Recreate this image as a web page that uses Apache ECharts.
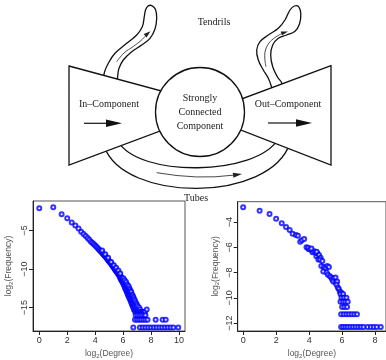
<!DOCTYPE html>
<html>
<head>
<meta charset="utf-8">
<script src="https://cdn.jsdelivr.net/npm/echarts@6/dist/echarts.min.js"></script>
<style>
  html, body { margin: 0; padding: 0; background: #fff; }
  #main { width: 386px; height: 360px; }
</style>
</head>
<body>
<div id="main"></div>
<script>
// in-degree distribution: log2(degree) vs log2(frequency)
const inX = [0, 1, 1.6, 2, 2.32, 2.58, 2.81, 3.0, 3.17, 3.32, 3.46, 3.58, 3.7, 3.81, 3.91, 4.0,
  4.09, 4.17, 4.25, 4.32, 4.39, 4.46, 4.52, 4.58, 4.64, 4.7, 4.75, 4.81, 4.86, 4.91, 4.95, 5.0,
  5.04, 5.09, 5.13, 5.17, 5.21, 5.25, 5.29, 5.32, 5.36, 5.39, 5.43, 5.46, 5.49, 5.52, 5.55, 5.58,
  5.61, 5.64, 5.67, 5.7, 5.73, 5.75, 5.78, 5.81, 5.83, 5.86, 5.88, 5.91, 5.93, 5.95, 5.98, 6.0,
  6.02, 6.04, 6.07, 6.09, 6.11, 6.13, 6.15, 6.17, 6.19, 6.21, 6.23, 6.25, 6.27, 6.29, 6.3, 6.32,
  6.34, 6.36, 6.38, 6.39, 6.41, 6.43, 6.44, 6.46, 6.48, 6.49, 6.51, 6.52, 6.54, 6.55, 6.57, 6.58,
  6.6, 6.61, 6.63, 6.64, 6.66, 6.67, 6.69, 6.7, 6.72, 6.73, 6.75, 6.76, 6.78, 6.79, 6.81, 6.82,
  6.84, 6.86, 6.87, 6.9, 6.92, 6.94, 6.96, 6.98, 7.0, 7.03, 7.06, 7.1, 7.14, 7.18, 7.22, 7.26,
  7.3, 7.36, 7.42, 7.5, 7.56, 7.69,
  4.5, 4.72, 4.93, 5.15, 5.34, 5.5, 5.66, 5.8,
  6.9, 7.05, 7.2, 7.35, 7.5, 7.6,
  6.85, 7.0, 7.15, 7.3, 7.45, 7.6, 7.75, 8.33, 8.83, 9.05,
  6.73, 7.2, 7.4, 7.6, 7.8, 8.0, 8.2, 8.4, 8.6, 8.8, 9.0, 9.2, 9.4, 9.6, 9.95];
const inY = [-2.11, -1.98, -2.89, -3.4, -3.97, -4.36, -4.74, -5.15, -5.45, -5.7, -5.98, -6.2, -6.45, -6.62, -6.8, -6.95,
  -7.12, -7.28, -7.42, -7.55, -7.7, -7.82, -7.95, -8.08, -8.2, -8.32, -8.45, -8.55, -8.68, -8.8, -8.88, -9.0,
  -9.1, -9.2, -9.3, -9.38, -9.5, -9.58, -9.7, -9.78, -9.85, -9.98, -10.05, -10.15, -10.2, -10.3, -10.4, -10.35,
  -10.55, -10.5, -10.7, -10.6, -10.9, -10.75, -11.1, -10.95, -11.3, -11.1, -11.45, -11.2, -11.6, -11.35, -11.8, -11.5,
  -11.2, -12.0, -11.7, -12.2, -11.45, -12.4, -11.9, -12.6, -12.1, -11.7, -12.8, -12.3, -13.0, -12.0, -12.6, -13.2,
  -12.4, -13.4, -12.8, -12.2, -13.6, -13.0, -12.5, -13.8, -13.2, -12.7, -14.0, -13.4, -12.9, -14.2, -13.6, -13.0,
  -14.4, -13.8, -13.3, -14.6, -14.0, -13.4, -14.8, -14.2, -13.6, -15.0, -14.4, -13.8, -15.3, -14.6, -14.0, -15.26,
  -14.8, -14.2, -15.58, -15.0, -14.4, -15.58, -15.26, -14.6, -15.58, -14.8, -15.26, -15.58, -15.0, -15.58, -15.26, -15.58,
  -15.58, -15.58, -15.58, -15.58, -15.58, -15.26,
  -7.6, -8.1, -8.55, -9.1, -9.5, -9.85, -10.2, -10.6,
  -16.0, -16.0, -16.0, -16.0, -16.0, -16.0,
  -16.58, -16.58, -16.58, -16.58, -16.58, -16.58, -16.58, -16.58, -16.58, -16.58,
  -17.58, -17.58, -17.58, -17.58, -17.58, -17.58, -17.58, -17.58, -17.58, -17.58, -17.58, -17.58, -17.58, -17.58, -17.58];

// out-degree distribution
const outX = [0, 1, 1.6, 2.0, 2.34, 2.6, 2.82, 3.0, 3.2, 3.32, 3.46, 3.56, 3.7,
  3.84, 3.96, 4.1, 4.2, 4.3, 4.44, 4.5, 4.56, 3.94, 4.06, 4.14, 4.4, 4.46, 4.6, 4.7, 4.66,
  4.8, 4.74, 4.9, 5.0, 5.1, 5.2, 4.86, 5.06, 5.14, 5.26, 5.34, 5.4, 5.5, 5.6, 5.46, 5.6, 5.7,
  5.66, 5.74, 5.8, 5.86, 5.94, 5.9, 6.06,
  5.96, 6.1, 6.26,
  5.9, 6.06, 6.2, 6.34,
  6.0, 6.14, 6.3,
  5.94, 6.1, 6.26, 6.42, 6.58, 6.74, 6.9,
  5.94, 6.06, 6.2, 6.34, 6.5, 6.66, 6.82, 6.98, 7.14, 7.3, 7.54, 7.74, 7.92, 8.1, 8.34];
const outY = [-2.82, -3.09, -3.35, -3.74, -4.08, -4.39, -4.63, -4.92, -5.02, -5.07, -5.55, -5.44, -5.33,
  -5.99, -6.12, -6.17, -6.38, -6.3, -6.7, -6.49, -6.96, -6.04, -6.17, -6.09, -6.43, -6.35, -6.61, -6.82, -6.98,
  -7.08, -7.48, -7.56, -7.66, -7.48, -7.56, -7.92, -8.0, -8.18, -8.29, -8.39, -8.55, -8.44, -8.39, -8.71, -8.78, -8.71,
  -8.97, -9.18, -9.31, -9.49, -9.57, -9.7, -9.7,
  -9.99, -9.99, -9.99,
  -10.31, -10.31, -10.31, -10.31,
  -10.73, -10.73, -10.73,
  -11.31, -11.31, -11.31, -11.31, -11.31, -11.31, -11.31,
  -12.31, -12.31, -12.31, -12.31, -12.31, -12.31, -12.31, -12.31, -12.31, -12.31, -12.31, -12.31, -12.31, -12.31, -12.31];

const inTicksX = [0, 2, 4, 6, 8, 10];
const inTicksY = [-15, -10, -5];
const outTicksX = [0, 2, 4, 6, 8];
const outTicksY = [-12, -10, -8, -6, -4];

const ink = '#111';
const serif = 'Liberation Serif';
const minus = v => String(v).replace('-', '\u2212');

const nameRich = {
  s: { fontSize: 6, fontFamily: 'Liberation Sans', color: '#555', verticalAlign: 'bottom', padding: [4, 0, 0, 0] }
};

function axisX(grid, min, max, ticks) {
  return {
    gridIndex: grid, type: 'value', min: min, max: max,
    splitLine: { show: false },
    axisLine: { show: true, onZero: false, lineStyle: { color: '#222', width: 1 } },
    axisTick: { show: true, length: 4, customValues: ticks, lineStyle: { color: '#222' } },
    axisLabel: { customValues: ticks, fontSize: 9, fontFamily: 'Liberation Sans', color: '#333', margin: 5, formatter: minus },
    name: 'log{s|2}(Degree)', nameLocation: 'middle', nameGap: 18,
    nameTextStyle: { fontSize: 8.5, fontFamily: 'Liberation Sans', color: '#555', rich: nameRich }
  };
}
function axisY(grid, min, max, ticks, gap) {
  return {
    gridIndex: grid, type: 'value', min: min, max: max,
    splitLine: { show: false },
    axisLine: { show: true, onZero: false, lineStyle: { color: '#222', width: 1 } },
    axisTick: { show: true, length: 4, customValues: ticks, lineStyle: { color: '#222' } },
    axisLabel: { customValues: ticks, rotate: 90, fontSize: 9, fontFamily: 'Liberation Sans', color: '#333', margin: 4, formatter: minus },
    name: 'log{s|2}(Frequency)', nameLocation: 'middle', nameGap: gap,
    nameTextStyle: { fontSize: 8.5, fontFamily: 'Liberation Sans', color: '#555', rich: nameRich }
  };
}

const lineStyle = { stroke: ink, lineWidth: 1.3, fill: null };
const thin = { stroke: '#333', lineWidth: 0.9, fill: null };
const txt = (s, x, y) => ({
  type: 'text', x: x, y: y, z: 10,
  style: { text: s, fontSize: 10, fontFamily: serif, fill: '#222', align: 'center', verticalAlign: 'middle', textAlign: 'center', textVerticalAlign: 'middle' }
});

const diagram = [
  { type: 'polyline', z: 1, shape: { smooth: 0.4, points: [[103.8, 77], [104.5, 72], [108.3, 63.3], [115, 53.3], [126.7, 43.3], [136.7, 35], [142.3, 26.7], [144.3, 16.7], [145.5, 10], [148, 6], [151.7, 5.6], [155.5, 9.5], [156.7, 18], [155, 29], [150, 38.3], [141.7, 45], [131.7, 51.7], [123.3, 60], [119, 68.3], [117.7, 76], [117.3, 81]] }, style: lineStyle },
  { type: 'polyline', z: 1, shape: { smooth: 0.4, points: [[272.5, 91], [271.7, 87.3], [268.3, 78.3], [263.3, 70], [258.3, 60], [256.7, 50], [260, 41.7], [268.3, 35], [278.3, 28.3], [285, 20], [290, 10], [294.5, 6], [298.8, 6.8], [300.8, 14], [299.5, 24], [295, 31.2], [286.7, 35], [278.3, 38.3], [272.7, 45], [270.7, 55], [272.7, 66.7], [277.3, 76.7], [281.7, 82.7], [282.5, 87]] }, style: lineStyle },
  { type: 'bezierCurve', z: 1, shape: { x1: 118, y1: 141, cpx1: 138, cpy1: 178, cpx2: 257, cpy2: 176, x2: 278, y2: 139 }, style: lineStyle },
  { type: 'bezierCurve', z: 1, shape: { x1: 104, y1: 146, cpx1: 124, cpy1: 203, cpx2: 270, cpy2: 203, x2: 290, y2: 143 }, style: lineStyle },
  { type: 'polygon', z: 2, shape: { points: [[69, 66], [170, 93.3], [170, 127.4], [69, 165]] }, style: { stroke: ink, lineWidth: 1.3, fill: '#fff' } },
  { type: 'polygon', z: 2, shape: { points: [[331, 65.7], [230, 103.3], [230, 125.9], [331, 165]] }, style: { stroke: ink, lineWidth: 1.3, fill: '#fff' } },
  { type: 'circle', z: 3, shape: { cx: 200, cy: 112, r: 44.5 }, style: { stroke: ink, lineWidth: 1.3, fill: '#fff' } },
  // arrows
  { type: 'line', z: 4, shape: { x1: 84, y1: 123.3, x2: 107, y2: 123.3 }, style: { stroke: ink, lineWidth: 1.2 } },
  { type: 'polygon', z: 4, shape: { points: [[106, 119.5], [122, 123.3], [106, 127.1]] }, style: { fill: ink } },
  { type: 'line', z: 4, shape: { x1: 268, y1: 123, x2: 297, y2: 123 }, style: { stroke: ink, lineWidth: 1.2 } },
  { type: 'polygon', z: 4, shape: { points: [[296, 119.3], [312, 123], [296, 126.7]] }, style: { fill: ink } },
  { type: 'polyline', z: 4, shape: { smooth: 0.4, points: [[116.7, 61.7], [124, 53], [133.3, 46.5], [141, 40.5], [145.5, 36]] }, style: thin },
  { type: 'polygon', z: 4, shape: { points: [[150.5, 31.3], [146.5, 37.5], [143.7, 34.1]] }, style: { fill: '#222' } },
  { type: 'polyline', z: 4, shape: { smooth: 0.4, points: [[266, 66.7], [264.8, 58], [265.5, 50], [269, 43], [275, 37.5], [281, 34]] }, style: thin },
  { type: 'polygon', z: 4, shape: { points: [[288, 31.5], [281.9, 35.6], [280.7, 31.4]] }, style: { fill: '#222' } },
  { type: 'bezierCurve', z: 4, shape: { x1: 156.7, y1: 172.7, cpx1: 198, cpy1: 179.9, x2: 233, y2: 175.2 }, style: thin },
  { type: 'polygon', z: 4, shape: { points: [[242, 174], [233.4, 177.7], [232.8, 172.7]] }, style: { fill: '#222' } },
  txt('Tendrils', 214, 22),
  txt('In\u2013Component', 109, 104),
  txt('Out\u2013Component', 288, 104),
  txt('Strongly', 200, 98),
  txt('Connected', 200, 112),
  txt('Component', 200, 126),
  txt('Tubes', 196, 198.5)
];

const chart = echarts.init(document.getElementById('main'));
chart.setOption({
  animation: false,
  backgroundColor: '#fff',
  grid: [
    { left: 33, top: 201, width: 152, height: 131, show: true, borderColor: '#555', borderWidth: 1 },
    { left: 237.7, top: 201.7, width: 150, height: 130.6, show: true, borderColor: '#555', borderWidth: 1 }
  ],
  xAxis: [axisX(0, -0.45, 10.43, inTicksX), axisX(1, -0.33, 8.66, outTicksX)],
  yAxis: [axisY(0, -18.05, -1.17, inTicksY, 19), axisY(1, -12.63, -2.38, outTicksY, 17)],
  graphic: { elements: diagram },
  series: [
    {
      type: 'scatter', xAxisIndex: 0, yAxisIndex: 0, silent: true,
      symbol: 'emptyCircle', symbolSize: 4,
      itemStyle: { color: '#0000ff', borderColor: '#0000ff', borderWidth: 0.8 },
      data: inX.map((x, i) => [x, inY[i]])
    },
    {
      type: 'scatter', xAxisIndex: 1, yAxisIndex: 1, silent: true,
      symbol: 'emptyCircle', symbolSize: 4,
      itemStyle: { color: '#0000ff', borderColor: '#0000ff', borderWidth: 0.8 },
      data: outX.map((x, i) => [x, outY[i]])
    }
  ]
});
</script>
</body>
</html>
